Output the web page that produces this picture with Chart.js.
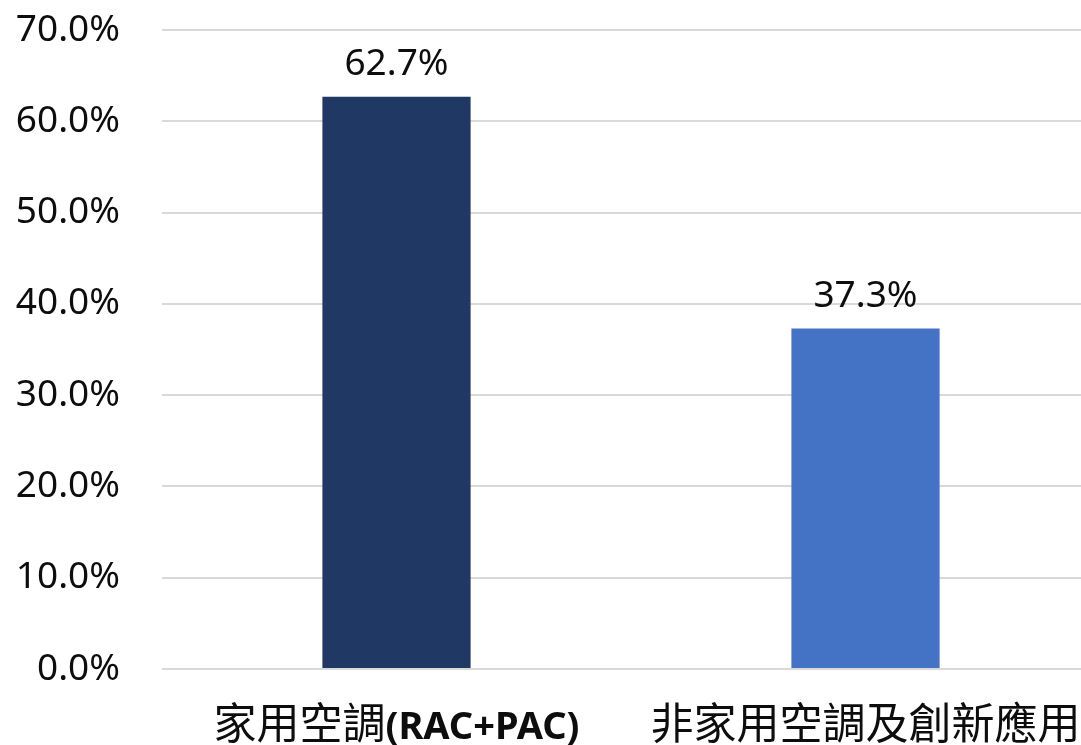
<!DOCTYPE html>
<html>
<head>
<meta charset="utf-8">
<script src="https://cdn.jsdelivr.net/npm/chart.js@4.4.0/dist/chart.umd.min.js"></script>
<style>
  html, body { margin: 0; padding: 0; background: #fff; overflow: hidden; }
  #wrap { width: 1100px; height: 745px; }
</style>
</head>
<body>
<div id="wrap"><canvas id="chart" width="1100" height="745"></canvas></div>
<script>
// data
const categories = ['家用空調(RAC+PAC)', '非家用空調及創新應用'];
const shares = [62.7, 37.3];
const barColors = ['#203864', '#4472C4'];
const yTicks = [0, 10, 20, 30, 40, 50, 60, 70];

const numFont = '37px "Noto Sans", "DejaVu Sans", sans-serif';
const cjkFont = '43px "Noto Sans CJK TC", "Noto Sans", sans-serif';
const boldFont = 'bold 38px "Noto Sans", "DejaVu Sans", sans-serif';

// value labels above bars
const valueLabels = {
  id: 'valueLabels',
  afterDatasetsDraw(chart) {
    const c = chart.ctx;
    const meta = chart.getDatasetMeta(0);
    c.save();
    c.font = numFont;
    c.fillStyle = '#0d0d0d';
    c.textAlign = 'center';
    c.textBaseline = 'alphabetic';
    meta.data.forEach((bar, i) => {
      c.fillText(shares[i].toFixed(1) + '%', bar.x, bar.y - 22);
    });
    c.restore();
  }
};

// x labels: CJK part regular, bracket part bold
const xLabels = {
  id: 'xLabels',
  afterDraw(chart) {
    const c = chart.ctx;
    const xs = chart.scales.x;
    c.save();
    c.fillStyle = '#0d0d0d';
    c.textBaseline = 'alphabetic';
    c.textAlign = 'left';
    categories.forEach((lab, i) => {
      const m = lab.match(/^([^(]*)(\(.*\))?$/);
      const parts = [[m[1], cjkFont]];
      if (m[2]) parts.push([m[2], boldFont]);
      let total = 0;
      parts.forEach(p => { c.font = p[1]; total += c.measureText(p[0]).width; });
      let x = xs.getPixelForTick(i) - total / 2;
      parts.forEach(p => {
        c.font = p[1];
        c.fillText(p[0], x, 739);
        x += c.measureText(p[0]).width;
      });
    });
    c.restore();
  }
};

new Chart(document.getElementById('chart'), {
  type: 'bar',
  data: {
    labels: categories,
    datasets: [{
      data: shares,
      backgroundColor: barColors,
      barPercentage: 0.316,
      categoryPercentage: 1
    }]
  },
  options: {
    responsive: false,
    animation: false,
    layout: { padding: 0 },
    plugins: { legend: { display: false }, tooltip: { enabled: false } },
    scales: {
      x: {
        grid: { display: false },
        border: { display: false },
        ticks: { color: 'transparent', font: { size: 10 } },
        afterFit(scale) { scale.height = 76; }
      },
      y: {
        min: 0,
        max: 70,
        afterBuildTicks(scale) { scale.ticks = yTicks.map(v => ({ value: v })); },
        grid: { color: '#d9d9d9', lineWidth: 2, drawTicks: false },
        border: { display: false },
        ticks: {
          color: '#0d0d0d',
          padding: 42,
          font: { family: '"Noto Sans", "DejaVu Sans", sans-serif', size: 37 },
          callback: v => v.toFixed(1) + '%'
        },
        afterFit(scale) {
          scale.width = 162;
          scale.paddingTop = 30;
          scale.paddingBottom = 0;
        }
      }
    }
  },
  plugins: [valueLabels, xLabels]
});
</script>
</body>
</html>
